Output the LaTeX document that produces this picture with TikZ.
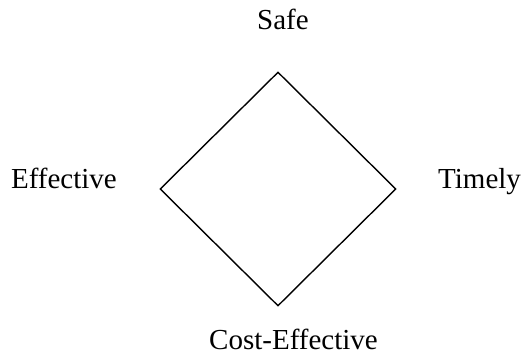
\documentclass[tikz,border=0pt]{standalone}
\usepackage{fontspec}
\setmainfont{Liberation Serif}
\usetikzlibrary{positioning,shapes.geometric}

\begin{document}
\begin{tikzpicture}[
    x=1pt, y=1pt,
    quad/.style={
      diamond,
      draw,
      line width=1.4pt,
      inner sep=0pt,
      minimum width=236pt,
      minimum height=234pt
    },
    tag/.style={
      inner sep=0pt,
      font=\fontsize{29}{34}\selectfont
    }
    ]
    \useasboundingbox (0,0) rectangle (524,354);
    \node[quad] (q) at (278,165) {};

    \node[tag,anchor=base] (safe) at (283,324) {Safe};
    \node[tag,anchor=base east] (effective) at (117,166) {Effective};
    \node[tag,anchor=base west] (timely) at (438,166) {Timely};
    \node[tag,anchor=base] (cost) at (293.5,5) {Cost-Effective};
    \end{tikzpicture}
\end{document}
